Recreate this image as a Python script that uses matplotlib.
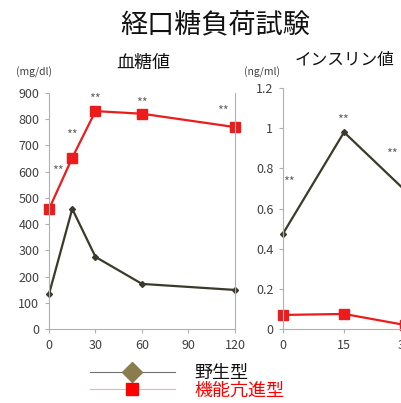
import matplotlib
matplotlib.use('Agg')
import matplotlib.pyplot as plt
from matplotlib.lines import Line2D

plt.rcParams['font.family'] = ['Noto Sans CJK JP', 'DejaVu Sans']

# blood glucose (mg/dl)
glu_time = [0, 15, 30, 60, 120]
glu_wild = [133, 458, 275, 172, 149]
glu_mut = [457, 653, 831, 821, 770]
glu_stars_x = [6, 15, 30, 60, 112]
glu_stars_y = [600, 740, 875, 860, 828]

# insulin (ng/ml)
ins_time = [0, 15, 30]
ins_wild = [0.475, 0.98, 0.69]
ins_mut = [0.07, 0.075, 0.02]
ins_stars_x = [1.5, 14.8, 26.8]
ins_stars_y = [0.73, 1.04, 0.87]

c_wild = '#3b3a2a'
c_mut = '#ec1c1c'
c_axis = '#b0b0b0'
c_txt = '#404040'

fig = plt.figure(figsize=(4.01, 4.03), dpi=100)

def style(ax):
    for s in ['left', 'bottom', 'right']:
        ax.spines[s].set_color(c_axis)
    ax.spines['top'].set_visible(False)
    ax.tick_params(colors=c_axis, labelcolor=c_txt, labelsize=9, length=3, width=0.8, pad=4)

ax1 = fig.add_axes([0.1222, 0.1836, 0.4638, 0.5856])
ax1.plot(glu_time, glu_wild, color=c_wild, marker='D', markersize=3, lw=1.6, clip_on=False)
ax1.plot(glu_time, glu_mut, color=c_mut, marker='s', markersize=6.5, lw=1.6, clip_on=False)
ax1.set_xlim(0, 120)
ax1.set_ylim(0, 900)
ax1.set_xticks([0, 30, 60, 90, 120])
ax1.set_yticks(range(0, 901, 100))
style(ax1)
for x, y in zip(glu_stars_x, glu_stars_y):
    ax1.text(x, y, '**', ha='center', va='center', fontsize=9, color='#666666')

ax2 = fig.add_axes([0.7057, 0.1836, 0.609, 0.598])
ax2.plot(ins_time, ins_wild, color=c_wild, marker='D', markersize=3, lw=1.6, clip_on=False)
ax2.plot(ins_time, ins_mut, color=c_mut, marker='s', markersize=6.5, lw=1.6, clip_on=False)
ax2.set_xlim(0, 60)
ax2.set_ylim(0, 1.2)
ax2.set_xticks([0, 15, 30])
ax2.set_yticks([0, 0.2, 0.4, 0.6, 0.8, 1, 1.2])
ax2.set_yticklabels(['0', '0.2', '0.4', '0.6', '0.8', '1', '1.2'])
style(ax2)
for x, y in zip(ins_stars_x, ins_stars_y):
    ax2.text(x, y, '**', ha='center', va='center', fontsize=9, color='#666666')

fig.text(0.538, 0.938, '経口糖負荷試験', ha='center', va='center', fontsize=19.5, color='#111111')
fig.text(0.357, 0.843, '血糖値', ha='center', va='center', fontsize=13, color='#111111')
fig.text(0.858, 0.851, 'インスリン値', ha='center', va='center', fontsize=12, color='#111111')
fig.text(0.085, 0.821, '(mg/dl)', ha='center', va='center', fontsize=7.5, color=c_txt)
fig.text(0.654, 0.821, '(ng/ml)', ha='center', va='center', fontsize=7.5, color=c_txt)

handles = [
    Line2D([], [], color='#707070', lw=0.8, marker='D', markersize=10.5,
           markerfacecolor='#8b7d4b', markeredgecolor='#8b7d4b'),
    Line2D([], [], color='#f2b0b0', lw=0.8, marker='s', markersize=8.5,
           markerfacecolor='#ff0000', markeredgecolor='#ff0000'),
]
leg = fig.legend(handles, ['野生型', '機能亢進型'], loc='center left',
                 bbox_to_anchor=(90 / 401, 0.053), frameon=False, fontsize=13,
                 borderpad=0, borderaxespad=0,
                 handlelength=4.7, handletextpad=1.1, labelspacing=-0.02)
leg.get_texts()[0].set_color('#111111')
leg.get_texts()[1].set_color('#ff0000')

fig.savefig('out.png', dpi=100)
